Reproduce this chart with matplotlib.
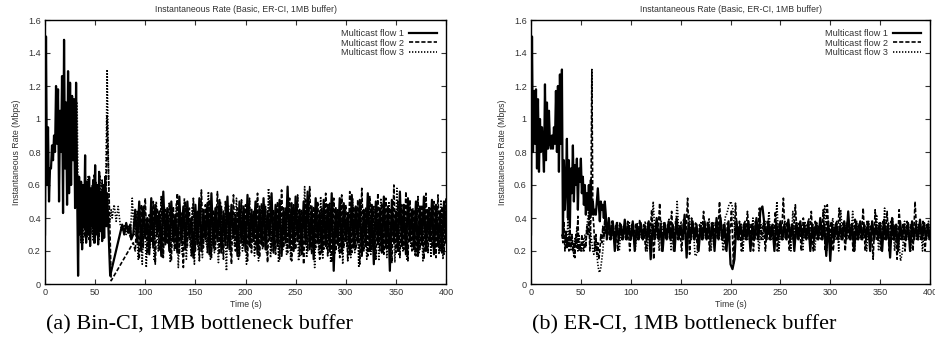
import numpy as np
import matplotlib
matplotlib.use("Agg")
import matplotlib.pyplot as plt

plt.rcParams['font.family'] = ['Liberation Sans', 'DejaVu Sans']

# ---------------- data: (a) Bin-CI ----------------
# flow 1, early phase, 1 s samples from t=0
a1_early = [0.30, 1.50, 0.60, 0.95, 0.50, 0.70, 0.70, 0.84, 0.75, 0.90, 0.80, 1.20, 0.85,
            1.18, 0.50, 1.05, 0.80, 1.26, 0.43, 1.48, 0.70, 1.10, 0.48, 1.29, 0.55, 1.22,
            0.60, 1.14, 0.75, 1.12, 0.46, 1.22, 0.60]
# flow 1, t=33..62 (1 s)
a1_mid = [0.05, 0.65, 0.30, 0.62, 0.21, 0.60, 0.35, 0.78, 0.25, 0.62, 0.30, 0.65, 0.23, 0.58,
          0.35, 0.63, 0.25, 0.72, 0.30, 0.60, 0.24, 0.68, 0.32, 0.55, 0.26, 0.60, 0.28, 0.65,
          0.35, 0.55]
a1_gap_t = [65, 77, 79, 81, 83, 85, 86]
a1_gap = [0.05, 0.36, 0.30, 0.37, 0.31, 0.36, 0.27]
# flow 2, t=33..62 (1 s)
a2_mid = [0.50, 0.30, 0.55, 0.25, 0.60, 0.35, 0.48, 0.28, 0.57, 0.33, 0.62, 0.27, 0.50, 0.36,
          0.58, 0.30, 0.66, 0.25, 0.54, 0.38, 0.60, 0.29, 0.52, 0.34, 0.63, 0.27, 0.56, 0.40,
          0.60, 1.02]
a2_gap_t = [66]
a2_gap = [0.02]
# flow 3, t=32..62 (1 s)
a3_mid = [1.10, 0.55, 0.35, 0.62, 0.30, 0.56, 0.25, 0.60, 0.33, 0.52, 0.28, 0.65, 0.35, 0.55,
          0.30, 0.60, 0.26, 0.58, 0.38, 0.62, 0.31, 0.55, 0.27, 0.66, 0.34, 0.52, 0.30, 0.60,
          0.36, 0.76, 1.30]
a3_gap_t = [64, 66, 67, 69, 71, 73, 75, 77, 79, 81, 83, 85, 87]
a3_gap = [0.35, 0.45, 0.40, 0.48, 0.38, 0.47, 0.36, 0.32, 0.36, 0.30, 0.35, 0.28, 0.52]

# steady phase, 2 s samples from t=88
a1_steady = [
    0.30, 0.45, 0.25, 0.50, 0.20, 0.47, 0.28, 0.40, 0.18, 0.52, 0.22, 0.48, 0.30, 0.44, 0.17, 0.56, 0.24, 0.46, 0.20, 0.50,
    0.26, 0.42, 0.19, 0.53, 0.25, 0.47, 0.21, 0.50, 0.28, 0.40, 0.16, 0.48, 0.24, 0.52, 0.20, 0.45, 0.27, 0.49, 0.18, 0.55,
    0.22, 0.46, 0.26, 0.51, 0.19, 0.44, 0.24, 0.53, 0.21, 0.48, 0.28, 0.42, 0.17, 0.50, 0.25, 0.47, 0.20, 0.54, 0.23, 0.45,
    0.26, 0.50, 0.18, 0.47, 0.24, 0.52, 0.21, 0.44, 0.27, 0.55, 0.19, 0.48, 0.23, 0.51, 0.17, 0.46, 0.25, 0.59, 0.22, 0.49,
    0.20, 0.53, 0.26, 0.45, 0.18, 0.50, 0.24, 0.56, 0.21, 0.47, 0.15, 0.52, 0.25, 0.44, 0.19, 0.51, 0.23, 0.48, 0.20, 0.55,
    0.08, 0.46, 0.24, 0.52, 0.19, 0.49, 0.26, 0.43, 0.18, 0.54, 0.22, 0.47, 0.25, 0.51, 0.17, 0.45, 0.23, 0.55, 0.20, 0.48,
    0.12, 0.50, 0.24, 0.46, 0.19, 0.53, 0.22, 0.47, 0.08, 0.51, 0.25, 0.44, 0.20, 0.56, 0.23, 0.48, 0.18, 0.52, 0.26, 0.45,
    0.21, 0.50, 0.17, 0.47, 0.24, 0.53, 0.20, 0.45, 0.26, 0.51, 0.18, 0.48, 0.23, 0.44, 0.19, 0.50, 0.25, 0.46, 0.21, 0.49]
a2_steady = [
    0.25, 0.20, 0.44, 0.15, 0.48, 0.22, 0.52, 0.18, 0.42, 0.25, 0.50, 0.12, 0.46, 0.20, 0.53, 0.16, 0.45, 0.24, 0.49, 0.14,
    0.47, 0.21, 0.55, 0.18, 0.43, 0.10, 0.50, 0.23, 0.46, 0.17, 0.52, 0.20, 0.44, 0.14, 0.57, 0.22, 0.48, 0.19, 0.51, 0.16,
    0.45, 0.21, 0.56, 0.18, 0.47, 0.15, 0.50, 0.22, 0.43, 0.12, 0.54, 0.20, 0.46, 0.17, 0.51, 0.23, 0.48, 0.14, 0.52, 0.19,
    0.44, 0.21, 0.55, 0.16, 0.49, 0.22, 0.47, 0.13, 0.53, 0.20, 0.45, 0.18, 0.50, 0.15, 0.57, 0.22, 0.46, 0.19, 0.52, 0.14,
    0.48, 0.21, 0.54, 0.17, 0.45, 0.12, 0.51, 0.20, 0.59, 0.18, 0.47, 0.22, 0.50, 0.15, 0.46, 0.21, 0.55, 0.17, 0.49, 0.13,
    0.52, 0.20, 0.45, 0.16, 0.54, 0.22, 0.48, 0.14, 0.56, 0.19, 0.47, 0.21, 0.51, 0.12, 0.58, 0.20, 0.46, 0.17, 0.53, 0.21,
    0.47, 0.15, 0.55, 0.20, 0.49, 0.18, 0.52, 0.22, 0.46, 0.13, 0.60, 0.19, 0.50, 0.16, 0.48, 0.21, 0.56, 0.14, 0.51, 0.20,
    0.45, 0.17, 0.53, 0.21, 0.48, 0.15, 0.55, 0.19, 0.46, 0.22, 0.50, 0.16, 0.54, 0.20, 0.47, 0.18, 0.52, 0.21, 0.46, 0.19]
a3_steady = [
    0.30, 0.35, 0.15, 0.40, 0.12, 0.46, 0.10, 0.38, 0.22, 0.44, 0.14, 0.50, 0.20, 0.42, 0.16, 0.47, 0.25, 0.38, 0.13, 0.45,
    0.20, 0.49, 0.10, 0.42, 0.18, 0.52, 0.15, 0.40, 0.22, 0.47, 0.12, 0.44, 0.20, 0.50, 0.16, 0.41, 0.24, 0.56, 0.15, 0.43,
    0.19, 0.47, 0.13, 0.50, 0.21, 0.41, 0.08, 0.48, 0.18, 0.44, 0.23, 0.52, 0.15, 0.40, 0.20, 0.46, 0.12, 0.49, 0.22, 0.42,
    0.17, 0.50, 0.14, 0.45, 0.21, 0.48, 0.19, 0.58, 0.16, 0.43, 0.22, 0.47, 0.13, 0.51, 0.20, 0.44, 0.18, 0.49, 0.15, 0.46,
    0.21, 0.50, 0.14, 0.44, 0.18, 0.59, 0.16, 0.47, 0.22, 0.42, 0.10, 0.49, 0.19, 0.53, 0.15, 0.45, 0.21, 0.48, 0.13, 0.50,
    0.18, 0.43, 0.20, 0.51, 0.12, 0.47, 0.22, 0.44, 0.16, 0.52, 0.19, 0.46, 0.10, 0.49, 0.21, 0.45, 0.15, 0.50, 0.18, 0.44,
    0.22, 0.48, 0.14, 0.52, 0.19, 0.45, 0.16, 0.50, 0.21, 0.44, 0.13, 0.58, 0.18, 0.47, 0.20, 0.43, 0.15, 0.49, 0.22, 0.46,
    0.17, 0.50, 0.19, 0.44, 0.14, 0.52, 0.21, 0.47, 0.16, 0.49, 0.20, 0.45, 0.18, 0.51, 0.15, 0.46, 0.22, 0.48, 0.19, 0.45]

# ---------------- data: (b) ER-CI ----------------
# flow 1, t=0..32 (1 s)
b1_early = [0.30, 1.50, 0.80, 1.17, 0.85, 1.18, 0.70, 1.12, 0.68, 1.00, 0.80, 0.95, 0.85, 0.68,
            1.21, 0.75, 1.10, 0.82, 1.05, 0.85, 0.82, 0.90, 0.82, 0.95, 0.85, 1.17, 0.80, 1.20,
            0.68, 1.27, 0.85, 1.30, 0.30]
# flow 1, t=33..75 (1 s)
b1_mid = [0.75, 0.45, 0.60, 0.88, 0.40, 0.75, 0.35, 0.70, 0.55, 0.84, 0.50, 0.72, 0.60, 0.76,
          0.45, 0.70, 0.62, 0.76, 0.55, 0.65, 0.48, 0.60, 0.42, 0.55, 0.45, 0.60, 0.40, 0.63,
          0.42, 0.50, 0.42, 0.45, 0.42, 0.50, 0.58, 0.48, 0.38, 0.50, 0.45, 0.48, 0.40, 0.50,
          0.42]
# flow 2, t=31..75 (1 s)
b2_mid = [0.30, 0.25, 0.38, 0.20, 0.32, 0.22, 0.28, 0.20, 0.35, 0.22, 0.30, 0.20, 0.25, 0.16,
          0.30, 0.22, 0.41, 0.20, 0.24, 0.20, 0.30, 0.22, 0.20, 0.25, 0.22, 0.35, 0.30, 0.42,
          0.20, 0.40, 1.30, 0.42, 0.35, 0.20, 0.30, 0.18, 0.25, 0.15, 0.20, 0.30, 0.25, 0.35,
          0.28, 0.40, 0.30]
# flow 3, t=31..75 (1 s)
b3_mid = [0.30, 0.28, 0.35, 0.25, 0.32, 0.22, 0.40, 0.25, 0.33, 0.20, 0.30, 0.25, 0.16, 0.28,
          0.22, 0.35, 0.20, 0.30, 0.25, 0.22, 0.20, 0.28, 0.22, 0.30, 0.25, 0.35, 0.40, 0.45,
          0.38, 0.30, 0.25, 0.20, 0.18, 0.26, 0.30, 0.18, 0.12, 0.08, 0.07, 0.10, 0.15, 0.20,
          0.28, 0.35, 0.30]

# steady phase, 2 s samples from t=76
b1_steady = [
    0.27, 0.40, 0.27, 0.38, 0.20, 0.37, 0.27, 0.36, 0.27, 0.39,
    0.27, 0.35, 0.27, 0.38, 0.20, 0.36, 0.27, 0.37, 0.27, 0.35,
    0.27, 0.38, 0.15, 0.36, 0.27, 0.40, 0.27, 0.35, 0.20, 0.37,
    0.27, 0.38, 0.27, 0.36, 0.20, 0.40, 0.27, 0.35, 0.27, 0.42,
    0.16, 0.37, 0.27, 0.38, 0.27, 0.36, 0.20, 0.35, 0.27, 0.38,
    0.27, 0.36, 0.27, 0.37, 0.20, 0.40, 0.27, 0.40, 0.27, 0.36,
    0.20, 0.38, 0.12, 0.09, 0.15, 0.38, 0.27, 0.36, 0.27, 0.37,
    0.27, 0.38, 0.20, 0.36, 0.27, 0.40, 0.27, 0.45, 0.47, 0.36,
    0.27, 0.38, 0.27, 0.36, 0.20, 0.37, 0.27, 0.38, 0.27, 0.36,
    0.27, 0.39, 0.27, 0.36, 0.20, 0.37, 0.27, 0.38, 0.27, 0.36,
    0.27, 0.38, 0.20, 0.36, 0.27, 0.37, 0.27, 0.40, 0.27, 0.36,
    0.17, 0.38, 0.14, 0.36, 0.27, 0.37, 0.27, 0.35, 0.27, 0.38,
    0.27, 0.44, 0.27, 0.36, 0.20, 0.37, 0.27, 0.38, 0.27, 0.36,
    0.27, 0.37, 0.20, 0.38, 0.27, 0.36, 0.27, 0.37, 0.20, 0.39,
    0.27, 0.36, 0.16, 0.40, 0.27, 0.36, 0.20, 0.38, 0.27, 0.36,
    0.27, 0.37, 0.20, 0.38, 0.27, 0.36, 0.27, 0.39, 0.27, 0.37,
    0.27, 0.36, 0.27, 0.38, 0.27, 0.36, 0.27, 0.37, 0.27, 0.36]
b2_steady = [
    0.35, 0.27, 0.38, 0.27, 0.36, 0.20, 0.37, 0.27, 0.35, 0.27,
    0.38, 0.20, 0.36, 0.27, 0.37, 0.27, 0.39, 0.27, 0.36, 0.20,
    0.37, 0.27, 0.45, 0.15, 0.38, 0.27, 0.49, 0.20, 0.37, 0.27,
    0.36, 0.27, 0.44, 0.20, 0.38, 0.27, 0.36, 0.20, 0.39, 0.27,
    0.52, 0.18, 0.40, 0.27, 0.37, 0.20, 0.36, 0.27, 0.44, 0.27,
    0.38, 0.20, 0.37, 0.27, 0.38, 0.27, 0.50, 0.27, 0.36, 0.20,
    0.37, 0.27, 0.45, 0.12, 0.49, 0.27, 0.38, 0.20, 0.36, 0.27,
    0.44, 0.27, 0.37, 0.20, 0.38, 0.27, 0.46, 0.27, 0.37, 0.20,
    0.38, 0.27, 0.36, 0.27, 0.44, 0.20, 0.37, 0.27, 0.52, 0.27,
    0.38, 0.20, 0.36, 0.27, 0.48, 0.27, 0.37, 0.20, 0.40, 0.27,
    0.36, 0.27, 0.44, 0.20, 0.38, 0.27, 0.36, 0.27, 0.45, 0.20,
    0.48, 0.27, 0.38, 0.20, 0.36, 0.27, 0.46, 0.27, 0.37, 0.20,
    0.38, 0.27, 0.36, 0.20, 0.40, 0.27, 0.37, 0.27, 0.46, 0.20,
    0.38, 0.27, 0.36, 0.15, 0.45, 0.27, 0.37, 0.20, 0.38, 0.27,
    0.44, 0.20, 0.38, 0.27, 0.36, 0.15, 0.45, 0.27, 0.37, 0.20,
    0.38, 0.27, 0.36, 0.20, 0.50, 0.27, 0.37, 0.27, 0.38, 0.20,
    0.36, 0.27, 0.38, 0.27, 0.37, 0.27, 0.36, 0.27, 0.38, 0.27]
b3_steady = [
    0.30, 0.36, 0.27, 0.35, 0.27, 0.38, 0.20, 0.36, 0.27, 0.37,
    0.27, 0.38, 0.27, 0.36, 0.20, 0.37, 0.27, 0.35, 0.27, 0.38,
    0.20, 0.36, 0.27, 0.50, 0.27, 0.37, 0.20, 0.38, 0.27, 0.36,
    0.27, 0.40, 0.20, 0.36, 0.27, 0.50, 0.27, 0.38, 0.27, 0.36,
    0.20, 0.42, 0.27, 0.36, 0.17, 0.18, 0.27, 0.38, 0.27, 0.36,
    0.27, 0.40, 0.20, 0.37, 0.27, 0.36, 0.27, 0.38, 0.20, 0.40,
    0.43, 0.48, 0.50, 0.45, 0.30, 0.36, 0.27, 0.37, 0.20, 0.38,
    0.27, 0.36, 0.27, 0.40, 0.27, 0.37, 0.20, 0.36, 0.27, 0.38,
    0.27, 0.44, 0.27, 0.36, 0.27, 0.50, 0.20, 0.37, 0.27, 0.38,
    0.27, 0.36, 0.20, 0.44, 0.27, 0.37, 0.27, 0.36, 0.20, 0.38,
    0.27, 0.40, 0.27, 0.36, 0.20, 0.37, 0.27, 0.38, 0.27, 0.48,
    0.20, 0.36, 0.27, 0.40, 0.27, 0.38, 0.20, 0.45, 0.27, 0.37,
    0.27, 0.36, 0.27, 0.44, 0.20, 0.38, 0.27, 0.37, 0.27, 0.36,
    0.20, 0.38, 0.27, 0.36, 0.27, 0.42, 0.20, 0.37, 0.27, 0.46,
    0.27, 0.37, 0.27, 0.40, 0.20, 0.36, 0.27, 0.14, 0.20, 0.38,
    0.27, 0.36, 0.20, 0.37, 0.27, 0.38, 0.27, 0.36, 0.20, 0.37,
    0.27, 0.38, 0.27, 0.36, 0.27, 0.37, 0.27, 0.36, 0.27, 0.38]

labels = ["Multicast flow 1", "Multicast flow 2", "Multicast flow 3"]
xticks = [0, 50, 100, 150, 200, 250, 300, 350, 400]
yticks = [0, 0.2, 0.4, 0.6, 0.8, 1.0, 1.2, 1.4, 1.6]
ytick_labels = ["0", "0.2", "0.4", "0.6", "0.8", "1", "1.2", "1.4", "1.6"]
title = "Instantaneous Rate (Basic, ER-CI, 1MB buffer)"
captions = ["(a) Bin-CI, 1MB bottleneck buffer", "(b) ER-CI, 1MB bottleneck buffer"]


def seg(start, step, vals):
    return start + step * np.arange(len(vals))


def build(parts):
    # parts: list of (times, values)
    t = np.concatenate([np.asarray(p[0], float) for p in parts])
    v = np.concatenate([np.asarray(p[1], float) for p in parts])
    return t, v


flows_a = [
    build([(seg(0, 1, a1_early), a1_early), (seg(33, 1, a1_mid), a1_mid),
           (a1_gap_t, a1_gap), (seg(88, 2, a1_steady), a1_steady)]),
    build([(seg(33, 1, a2_mid), a2_mid), (a2_gap_t, a2_gap),
           (seg(88, 2, a2_steady), a2_steady)]),
    build([(seg(32, 1, a3_mid), a3_mid), (a3_gap_t, a3_gap),
           (seg(89, 2, a3_steady), a3_steady)]),
]
flows_b = [
    build([(seg(0, 1, b1_early), b1_early), (seg(33, 1, b1_mid), b1_mid),
           (seg(76, 2, b1_steady), b1_steady)]),
    build([(seg(31, 1, b2_mid), b2_mid), (seg(77, 2, b2_steady), b2_steady)]),
    build([(seg(31, 1, b3_mid), b3_mid), (seg(76.5, 2, b3_steady), b3_steady)]),
]

styles = [dict(linestyle="-", linewidth=1.6),
          dict(linestyle=(0, (2.5, 1.2)), linewidth=1.2),
          dict(linestyle=(0, (0.8, 1.0)), linewidth=1.2)]

fig = plt.figure(figsize=(9.35, 3.45), dpi=100)
ax_a = fig.add_axes([45 / 935, 61 / 345, 401 / 935, 264 / 345])
ax_b = fig.add_axes([531 / 935, 61 / 345, 399 / 935, 264 / 345])

for ax, flows, cap in [(ax_a, flows_a, captions[0]), (ax_b, flows_b, captions[1])]:
    for (t, v), st, lab in zip(flows, styles, labels):
        ax.plot(t, v, color="black", label=lab, **st)
    ax.set_xlim(0, 400)
    ax.set_ylim(0, 1.6)
    ax.set_xticks(xticks)
    ax.set_yticks(yticks)
    ax.set_yticklabels(ytick_labels)
    ax.tick_params(direction="in", length=3.5, width=0.8, labelsize=6.6, top=True,
                   right=True, pad=3, colors="#333333", labelcolor="#333333")
    for sp in ax.spines.values():
        sp.set_linewidth(1.0)
    ax.set_title(title, fontsize=6.3, pad=6, color="#333333")
    ax.set_xlabel("Time (s)", fontsize=6.3, labelpad=2, color="#333333")
    ax.set_ylabel("Instantaneous Rate (Mbps)", fontsize=6.3, labelpad=5, color="#333333")
    leg = ax.legend(loc="upper right", frameon=False, fontsize=6.6, markerfirst=False,
                    handlelength=3.0, handletextpad=0.6, labelspacing=0.05,
                    borderaxespad=0.6)
    for txt in leg.get_texts():
        txt.set_color("#333333")
    pos = ax.get_position()
    fig.text(pos.x0 + pos.width * 0.385, 0.058, cap, ha="center", va="center",
             fontsize=16, family=["Liberation Serif", "DejaVu Serif"])

fig.savefig("out.png", dpi=100)
